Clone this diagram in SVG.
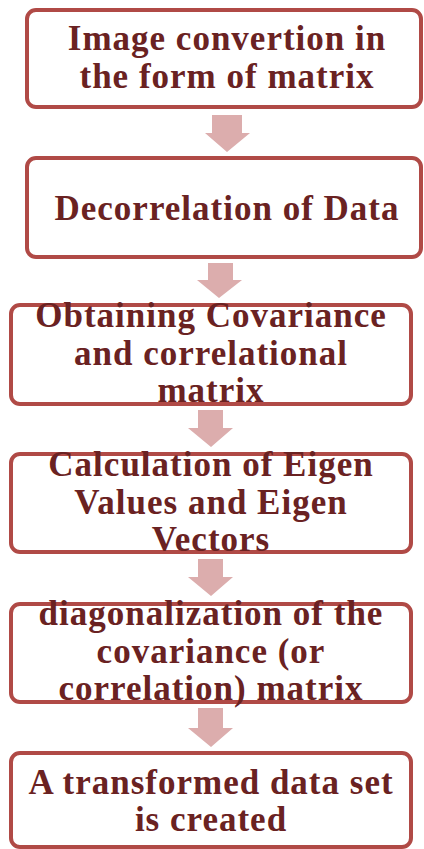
<svg xmlns="http://www.w3.org/2000/svg" width="424" height="849" viewBox="0 0 424 849">
<style>
.box{fill:#ffffff;stroke:#b04a46;stroke-width:4}
.arr{fill:#dcadad}
.t{font-family:"Liberation Serif","Times New Roman",serif;font-weight:bold;font-size:35px;letter-spacing:1px;fill:#6a2222;text-anchor:middle}
</style>
<rect width="424" height="849" fill="#ffffff"/>
<g id="connectors">
<polygon class="arr" points="212,115 242,115 242,133 250,133 227,152 205,133 212,133"/>
<polygon class="arr" points="208,263 233,263 233,280 242,280 219,298 197,280 208,280"/>
<polygon class="arr" points="198,410 223,410 223,428 233,428 211,447 188,428 198,428"/>
<polygon class="arr" points="198,559 223,559 223,577 233,577 211,596 188,577 198,577"/>
<polygon class="arr" points="198,708 223,708 223,728 233,728 211,747 188,728 198,728"/>
</g>
<g id="n1">
<rect class="box" x="27" y="10" width="394" height="97" rx="9"/>
<text class="t" x="227" y="50">Image convertion in</text>
<text class="t" x="227" y="88">the form of matrix</text>
</g>
<g id="n2">
<rect class="box" x="27" y="158" width="394" height="99" rx="9"/>
<text class="t" x="227" y="220">Decorrelation of Data</text>
</g>
<g id="n3">
<rect class="box" x="11" y="305" width="400" height="99" rx="9"/>
<text class="t" x="211" y="327">Obtaining Covariance</text>
<text class="t" x="211" y="365">and correlational</text>
<text class="t" x="211" y="402">matrix</text>
</g>
<g id="n4">
<rect class="box" x="11" y="454" width="400" height="98" rx="9"/>
<text class="t" x="211" y="476">Calculation of Eigen</text>
<text class="t" x="211" y="514">Values and Eigen</text>
<text class="t" x="211" y="551">Vectors</text>
</g>
<g id="n5">
<rect class="box" x="11" y="604" width="400" height="98" rx="9"/>
<text class="t" x="211" y="625">diagonalization of the</text>
<text class="t" x="211" y="663">covariance (or</text>
<text class="t" x="211" y="700">correlation) matrix</text>
</g>
<g id="n6">
<rect class="box" x="11" y="753" width="400" height="94" rx="9"/>
<text class="t" x="211" y="794">A transformed data set</text>
<text class="t" x="211" y="831">is created</text>
</g>
</svg>
